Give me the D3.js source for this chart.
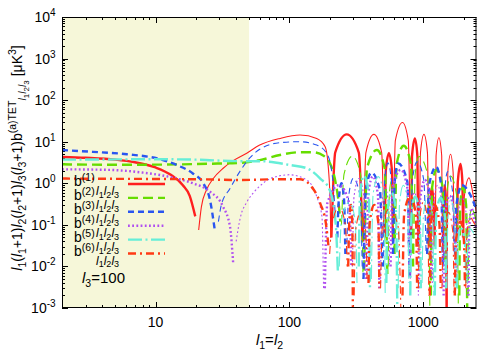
<!DOCTYPE html>
<html><head><meta charset="utf-8">
<script src="https://cdn.jsdelivr.net/npm/d3@7"></script>
<style>
html,body{margin:0;padding:0;background:#fff}
svg{display:block}
text{font-family:"Liberation Sans",Arial,Helvetica,sans-serif;fill:#000}
</style>
</head><body>
<svg id="chart" width="500" height="350"></svg>
<script>
// ---------- data ----------
const xDomain = [2, 2500];
const yDomain = [1e-3, 1e4];
const xMajorTicks = [10, 100, 1000];
const xTickLabels = ["10", "100", "1000"];
const yMajorTicks = [1e-3, 1e-2, 1e-1, 1e0, 1e1, 1e2, 1e3, 1e4];
const yTickExponents = ["-3", "-2", "-1", "0", "1", "2", "3", "4"];
const shadedRange = [2, 50];
const seriesIndex = ["1", "2", "3", "4", "5", "6"];
const l3Value = "100";

// [l, value]; negative values are plotted as |value| with the thin line
const b1 = [
  [2,4.3],[3,4.1],[5,3.7],[7,3.2],[10,2.4],[13,1.6],[16,0.9],[18,0.5],[19.8,0.16],
  [21,-0.075],[22,-0.27],[24,-0.69],[27,-1.3],[32,-2.3],[38,-3.5],[48,-5.3],[60,-8.3],[85,-12],[120,-14.5],[160,-12],[185,-7.6],[196,-2.1],[202,-0.27],[204,-0.048],
  [206,0.05],[220,5.5],[268,15],[330,5.5],[352,0.04],
  [357,-0.04],[373,-5.5],[428,-15],[489,-5.5],[510,-0.05],
  [516,0.05],[525,2],[554,5.3],[584,2],[594,0.04],
  [598,-0.05],[619,-10.7],[700,-29],[773,-10.7],[800,-0.05],
  [812,0.05],[824,4.4],[866,12],[905,4.4],[918,0.03],
  [936,-0.05],[954,-5.5],[1012,-15],[1075,-5.5],[1095,-0.04],
  [1105,0.03],[1125,0.3],[1160,0.8],[1195,0.3],[1218,0.03],
  [1228,-0.05],[1247,-4.6],[1309,-12.5],[1374,-4.6],[1395,-0.03],
  [1405,0.04],[1420,0.35],[1450,0.9],[1480,0.35],[1495,0.0008],
  [1505,-0.001],[1526,-1.85],[1600,-5],[1672,-1.85],[1700,-0.04],
  [1790,0.04],[1812,1.07],[1900,2.9],[1961,1.07],[1985,0.05],
  [2005,-0.05],[2030,-0.5],[2200,-1.35],[2380,-0.45],[2500,-0.2]
];
const b2 = [
  [2,2.86],[4,2.8],[8,2.8],[15,2.85],[25,2.95],[43,3.1],[60,3.6],[85,4.8],[120,5.6],[150,5.6],[180,4.6],[205,2.6],[222,1.0],[233,0.35],[240,0.12],
  [245,-0.1],[256,-1.65],[295,-4.5],[340,-1.65],[355,-0.005],
  [362,0.008],[380,2.3],[450,6.3],[515,2.3],[540,0.005],
  [548,-0.01],[556,-0.4],[575,-1.1],[594,-0.4],[602,-0.02],
  [610,0.02],[634,2.95],[715,8],[808,2.95],[840,0.01],
  [850,-0.02],[870,-1.6],[930,-4.4],[1080,-1.6],[1120,-0.001],
  [1140,0.002],[1165,0.78],[1250,2.1],[1400,0.78],[1450,0.01],
  [1470,-0.01],[1500,-0.55],[1600,-1.5],[1770,-0.55],[1830,-0.001],
  [1860,0.002],[1890,0.3],[1980,0.8],[2090,0.3],[2130,0.001],
  [2170,-0.002],[2200,-0.09],[2300,-0.25],[2450,-0.15],[2500,-0.12]
];
const b3 = [
  [2,6.3],[3.4,5.7],[6.1,5.0],[10.8,3.8],[14.4,2.75],[19.1,1.7],[22.7,1.0],[25.5,0.4],[27.8,0.069],
  [29.5,-0.12],[31,-0.3],[36,-0.75],[43,-2.0],[51,-4.2],[60,-6.6],[85,-9.5],[120,-10],[160,-8.3],[190,-5.2],[205,-2.4],[215,-0.6],[222,-0.1],
  [228,0.05],[234,0.4],[245,1.0],[256,0.4],[262,0.02],
  [268,-0.02],[277,-0.48],[300,-1.3],[338,-0.48],[350,-0.01],
  [358,0.005],[372,0.67],[410,1.8],[475,0.67],[495,0.01],
  [505,-0.01],[515,-1.15],[545,-3.1],[578,-1.15],[590,-0.02],
  [595,0.02],[612,1.1],[650,3.0],[760,1.1],[790,0.005],
  [805,-0.006],[830,-1.2],[900,-3.3],[1010,-1.2],[1050,-0.02],
  [1070,0.02],[1105,0.9],[1250,2.5],[1360,0.9],[1400,0.01],
  [1420,-0.01],[1450,-0.7],[1520,-1.9],[1650,-0.7],[1700,-0.02],
  [1730,0.02],[1770,0.3],[1950,0.9],[2200,0.6],[2500,0.23]
];
const b4 = [
  [2,2.17],[4.5,2.1],[8.1,1.8],[10.8,1.58],[14.4,1.3],[19,1.0],[25.5,0.63],[32,0.27],[36,0.09],[38,0.012],
  [40,-0.04],[43,-0.15],[48,-0.35],[54,-0.6],[60,-0.85],[72,-1.3],[100,-1.6],[135,-1.2],[160,-0.48],[175,-0.16],[180,-0.003],
  [184,0.003],[192,0.33],[235,0.9],[280,0.33],[290,0.01],
  [296,-0.01],[304,-0.48],[330,-1.3],[360,-0.48],[370,-0.005],
  [378,0.005],[388,0.54],[420,1.45],[458,0.54],[470,0.003],
  [480,-0.004],[490,-0.3],[520,-0.8],[550,-0.3],[560,-0.01],
  [570,0.01],[590,0.78],[680,2.1],[760,0.78],[790,0.005],
  [800,-0.004],[812,-0.22],[860,-0.6],[905,-0.22],[920,-0.002],
  [930,0.003],[950,0.44],[1030,1.2],[1120,0.44],[1150,0.005],
  [1170,-0.004],[1195,-0.33],[1280,-0.9],[1370,-0.33],[1400,-0.003],
  [1420,0.002],[1455,0.18],[1580,0.5],[1710,0.18],[1750,0.004],
  [1780,-0.003],[1820,-0.17],[1950,-0.45],[2100,-0.17],[2150,-0.002],
  [2180,0.002],[2210,0.09],[2300,0.25],[2420,0.12],[2500,0.08]
];
const b5 = [
  [2,3.7],[5,3.75],[10,3.8],[20,3.7],[43,3.4],[60,3.4],[101,2.75],[135,2.3],[170,1.3],[200,0.69],[215,0.25],[225,0.05],[230,0.008],
  [236,-0.01],[245,-0.13],[280,-0.35],[310,-0.13],[320,-0.004],
  [330,0.01],[337,0.55],[360,1.5],[392,0.55],[400,0.003],
  [410,-0.005],[422,-0.54],[460,-1.45],[505,-0.54],[520,-0.002],
  [530,0.004],[542,0.22],[580,0.6],[625,0.22],[640,0.001],
  [650,-0.003],[665,-0.33],[710,-0.9],[765,-0.33],[780,-0.004],
  [800,0.002],[818,0.18],[870,0.48],[940,0.18],[960,0.003],
  [980,-0.004],[1005,-0.18],[1080,-0.5],[1170,-0.18],[1200,-0.002],
  [1220,0.002],[1250,0.17],[1350,0.45],[1450,0.17],[1480,0.003],
  [1500,-0.003],[1530,-0.15],[1600,-0.4],[1720,-0.15],[1750,-0.002],
  [1780,0.003],[1810,0.035],[1900,0.09],[2050,0.035],[2100,0.004],
  [2120,-0.004],[2150,-0.03],[2250,-0.08],[2400,-0.06],[2500,-0.05]
];
const b6 = [
  [2,1.3],[5,1.28],[10,1.27],[20,1.25],[43,1.2],[85,1.25],[120,1.25],[143,0.9],[170,0.33],[188,0.1],[196,0.03],
  [200,-0.02],[208,-0.1],[235,-0.27],[262,-0.1],[270,-0.01],
  [275,0.01],[280,0.11],[288,0.3],[295,0.11],[298,0.001],
  [305,-0.002],[312,-0.07],[340,-0.2],[372,-0.07],[380,-0.005],
  [390,0.004],[398,0.11],[430,0.3],[462,0.11],[470,0.003],
  [480,-0.003],[495,-0.09],[560,-0.25],[650,-0.09],[680,-0.001],
  [700,0.002],[720,0.18],[800,0.48],[880,0.18],[900,0.003],
  [920,-0.003],[940,-0.13],[1000,-0.35],[1080,-0.13],[1100,-0.002],
  [1120,0.002],[1145,0.11],[1220,0.3],[1320,0.11],[1350,0.003],
  [1380,-0.003],[1420,-0.07],[1550,-0.2],[1660,-0.07],[1700,-0.002],
  [1720,0.002],[1760,0.045],[1900,0.12],[2010,0.045],[2050,0.003],
  [2080,-0.003],[2120,-0.06],[2250,-0.15],[2400,-0.11],[2500,-0.09]
];
const allSeries = [b1, b2, b3, b4, b5, b6];

// ---------- styles ----------
const colors = ["#ff1f1f", "#66dd00", "#2a56f0", "#b04ff0", "#66eed8", "#ff3a14"];
const dashes = [null, "10,5", "6,4", "1.8,2.4", "14,3.5,2,3.5", "8,4,2,4"];
const thickW = 2.4, thinW = 1.1;

// ---------- layout ----------
const svg = d3.select("#chart");
const L = 62, R = 476.5, T = 17, B = 308;
const x = d3.scaleLog().domain(xDomain).range([L, R]);
const y = d3.scaleLog().domain(yDomain).range([B, T]);

svg.append("defs").append("clipPath").attr("id", "clip")
  .append("rect").attr("x", L).attr("y", T).attr("width", R - L).attr("height", B - T);

svg.append("rect").attr("x", x(shadedRange[0])).attr("y", T)
  .attr("width", x(shadedRange[1]) - x(shadedRange[0])).attr("height", B - T)
  .attr("fill", "#f6f7d9");

// ticks
const tg = svg.append("g").attr("stroke", "#000").attr("stroke-width", 1);
const xMinor = [];
for (let k = 0; k <= 3; k++) for (let m = 2; m <= 9; m++) {
  const v = m * Math.pow(10, k);
  if (v >= xDomain[0] && v <= xDomain[1]) xMinor.push(v);
}
const yMinor = [];
for (let k = -3; k < 4; k++) for (let m = 2; m <= 9; m++) yMinor.push(m * Math.pow(10, k));
function xt(v, len) {
  const px = Math.round(x(v)) + 0.5;
  tg.append("line").attr("x1", px).attr("x2", px).attr("y1", B).attr("y2", B - len);
  tg.append("line").attr("x1", px).attr("x2", px).attr("y1", T).attr("y2", T + len);
}
function yt(v, len) {
  const py = Math.round(y(v)) + 0.5;
  tg.append("line").attr("x1", L).attr("x2", L + len).attr("y1", py).attr("y2", py);
  tg.append("line").attr("x1", R).attr("x2", R - len).attr("y1", py).attr("y2", py);
}
xMinor.forEach(v => xt(v, 3));
xMajorTicks.forEach(v => xt(v, 6));
yMinor.forEach(v => yt(v, 3));
yMajorTicks.forEach(v => yt(v, 6));

// curves
function runs(pts) {
  const out = []; let cur = null, sg = 0;
  pts.forEach(([l, v]) => {
    const s = v > 0 ? 1 : -1;
    if (s !== sg) { cur = { sign: s, pts: [] }; out.push(cur); sg = s; }
    cur.pts.push([l, Math.abs(v)]);
  });
  return out;
}
const line = d3.line().x(d => x(d[0])).y(d => y(d[1])).curve(d3.curveMonotoneX);
const cg = svg.append("g").attr("clip-path", "url(#clip)").attr("fill", "none");
allSeries.forEach((ser, i) => {
  runs(ser).forEach(r => {
    cg.append("path").attr("d", line(r.pts))
      .attr("stroke", colors[i])
      .attr("stroke-width", r.sign > 0 ? thickW : thinW)
      .attr("stroke-dasharray", dashes[i])
      .attr("stroke-linejoin", "round");
  });
});

// frame
svg.append("rect").attr("x", L + 0.5).attr("y", T + 0.5).attr("width", R - L - 1).attr("height", B - T - 1)
  .attr("fill", "none").attr("stroke", "#000").attr("stroke-width", 1);

// rich text helper
function rich(sel, parts, base) {
  let cur = 0;
  parts.forEach(p => {
    const off = p.o || 0;
    const t = sel.append("tspan").attr("dy", off - cur).attr("font-size", p.fs || base).text(p.t);
    if (p.i) t.attr("font-style", "italic");
    cur = off;
  });
}

// tick labels
yMajorTicks.forEach((v, i) => {
  const t = svg.append("text").attr("x", 55.6).attr("y", y(v) + 5).attr("text-anchor", "end").attr("font-size", 14);
  rich(t, [{ t: "10" }, { t: yTickExponents[i], fs: 10, o: -6 }], 14);
});
xMajorTicks.forEach((v, i) => {
  svg.append("text").attr("x", x(v)).attr("y", 326.5).attr("text-anchor", "middle")
    .attr("font-size", 14).text(xTickLabels[i]);
});

// axis labels
const sub = (t) => ({ t, fs: 10.5, o: 4 });
const ll = (d, o0) => [{ t: "l", i: true, fs: 10.5, o: o0 }, { t: d, fs: 8, o: o0 + 3 }];
const ylab = svg.append("text").attr("transform", "translate(21.5,158) rotate(-90)")
  .attr("text-anchor", "middle").attr("font-size", 14);
rich(ylab, [
  { t: "l", i: true }, sub("1"), { t: "(" }, { t: "l", i: true }, sub("1"), { t: "+1)" },
  { t: "l", i: true }, sub("2"), { t: "(" }, { t: "l", i: true }, sub("2"), { t: "+1)" },
  { t: "l", i: true }, sub("3"), { t: "(" }, { t: "l", i: true }, sub("3"), { t: "+1)b" },
  { t: "(a)TET", fs: 10.5, o: -6 },
  ...ll("1", 4), ...ll("2", 4), ...ll("3", 4),
  { t: " [μK" }, { t: "3", fs: 10.5, o: -6 }, { t: "]" }
], 14);

const xlab = svg.append("text").attr("x", 269.5).attr("y", 345).attr("text-anchor", "middle").attr("font-size", 15);
rich(xlab, [{ t: "l", i: true }, sub("1"), { t: "=" }, { t: "l", i: true }, sub("2")], 15);

const l3 = svg.append("text").attr("x", 82).attr("y", 283).attr("font-size", 15);
rich(l3, [{ t: "l", i: true }, sub("3"), { t: "=" + l3Value }], 15);

// legend
const lg = svg.append("g");
const legY = (i) => 184 + 13.9 * i;
seriesIndex.forEach((s, i) => {
  const ly = legY(i);
  lg.append("line").attr("x1", 128).attr("x2", 165).attr("y1", ly).attr("y2", ly)
    .attr("stroke", colors[i]).attr("stroke-width", thickW).attr("stroke-dasharray", dashes[i]);
  const t = lg.append("text").attr("x", 74).attr("y", ly + 2).attr("font-size", 14);
  rich(t, [{ t: "b" }, { t: "(" + s + ")", fs: 10.5, o: -5 }], 14);
});
for (let i = 1; i <= 6; i++) {
  const t = lg.append("text").attr("x", 96).attr("y", legY(i) - 2.5).attr("font-size", 12);
  rich(t, [
    { t: "l", i: true, fs: 12 }, { t: "1", fs: 9, o: 2.5 },
    { t: "l", i: true, fs: 12 }, { t: "2", fs: 9, o: 2.5 },
    { t: "l", i: true, fs: 12 }, { t: "3", fs: 9, o: 2.5 }
  ], 12);
}
</script>
</body></html>
